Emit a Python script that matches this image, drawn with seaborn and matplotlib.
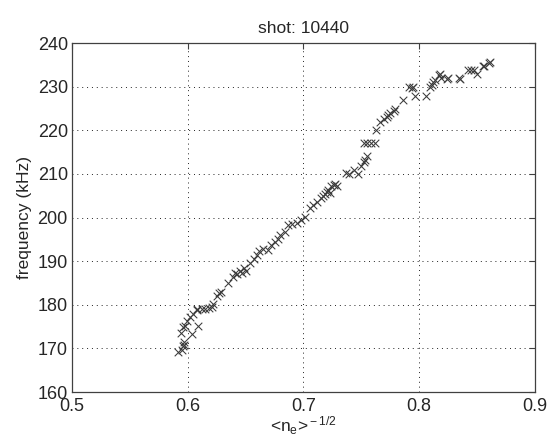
import matplotlib
matplotlib.use("Agg")
import matplotlib.pyplot as plt
import seaborn as sns
import pandas as pd

# <n_e>^(-1/2) vs frequency
ne_inv_sqrt = [
    0.592, 0.595, 0.596, 0.597, 0.597, 0.594, 0.596, 0.598, 0.599, 0.602,
    0.604, 0.605, 0.608, 0.609, 0.608, 0.612, 0.615, 0.618, 0.621, 0.622,
    0.625, 0.627, 0.629, 0.635, 0.639, 0.641, 0.643, 0.645, 0.647, 0.649,
    0.650, 0.654, 0.657, 0.660, 0.662, 0.665, 0.669, 0.672, 0.675, 0.678,
    0.680, 0.684, 0.687, 0.690, 0.694, 0.698, 0.701, 0.706, 0.708, 0.712,
    0.715, 0.717, 0.719, 0.720, 0.721, 0.723, 0.724, 0.726, 0.727, 0.729,
    0.737, 0.739, 0.744, 0.747, 0.750, 0.752, 0.753, 0.755, 0.752, 0.755,
    0.758, 0.762, 0.763, 0.766, 0.770, 0.772, 0.773, 0.775, 0.778, 0.779,
    0.786, 0.791, 0.794, 0.795, 0.796, 0.806, 0.809, 0.811, 0.812, 0.814,
    0.817, 0.818, 0.819, 0.824, 0.825, 0.834, 0.835, 0.842, 0.845, 0.847,
    0.850, 0.855, 0.856, 0.860, 0.861,
]
freq_khz = [
    169.2, 169.6, 170.5, 170.8, 171.5, 173.5, 175.0, 175.1, 176.3, 177.3,
    173.3, 178.0, 178.8, 175.1, 179.0, 179.0, 179.0, 179.2, 179.6, 180.3,
    182.0, 182.6, 183.0, 184.9, 186.4, 187.2, 187.0, 187.8, 187.3, 188.4,
    187.8, 189.5, 190.4, 191.4, 192.3, 192.9, 192.5, 193.7, 194.5, 195.0,
    196.0, 196.7, 198.3, 198.5, 198.8, 199.4, 200.2, 202.1, 202.9, 203.6,
    204.4, 205.0, 205.5, 205.9, 206.4, 205.6, 207.2, 207.4, 207.8, 207.2,
    210.3, 210.1, 210.9, 210.1, 211.8, 212.8, 213.2, 214.1, 217.0, 217.0,
    217.0, 217.0, 220.1, 222.0, 222.6, 223.1, 223.5, 223.9, 224.5, 225.0,
    226.9, 229.9, 229.8, 230.0, 227.9, 227.9, 230.0, 230.5, 231.0, 231.6,
    232.7, 233.0, 231.9, 231.7, 231.9, 231.9, 231.7, 233.8, 233.8, 233.8,
    232.9, 234.7, 234.7, 235.5, 235.7,
]

df = pd.DataFrame({"x": ne_inv_sqrt, "f": freq_khz})

sns.set_style("white")
plt.rcParams["font.family"] = ["Liberation Sans", "DejaVu Sans"]
plt.rcParams["mathtext.fontset"] = "custom"
plt.rcParams["mathtext.rm"] = "Liberation Sans"
plt.rcParams["mathtext.it"] = "Liberation Sans"

fig = plt.figure(figsize=(5.49, 4.45), dpi=100)
ax = fig.add_axes([0.131, 0.119, 0.8435, 0.784])

sns.scatterplot(data=df, x="x", y="f", marker="x", color="#3a3a3a",
                s=30, linewidth=0.75, ax=ax, zorder=3)

ax.set_xlim(0.5, 0.9)
ax.set_ylim(160, 240)
ax.set_xticks([0.5, 0.6, 0.7, 0.8, 0.9])
ax.set_yticks(range(160, 241, 10))
ax.grid(True, color="#222222", linestyle=(0, (1, 4)), linewidth=0.7)

for sp in ax.spines.values():
    sp.set_color("#404040")
    sp.set_linewidth(0.9)
ax.tick_params(direction="in", length=4, width=0.8, color="#404040",
               labelsize=13, top=True, right=True)
ax.tick_params(axis="x", pad=4)
ax.tick_params(axis="y", pad=3)

ax.set_title("shot: 10440", fontsize=12.5, pad=7)
ax.set_ylabel("frequency (kHz)", fontsize=12.5, labelpad=4)
ax.set_xlabel(r"<n$_{\rm e}$>$^{\rm -1/2}$", fontsize=12.5, labelpad=0)

fig.savefig("out.png", dpi=100)
